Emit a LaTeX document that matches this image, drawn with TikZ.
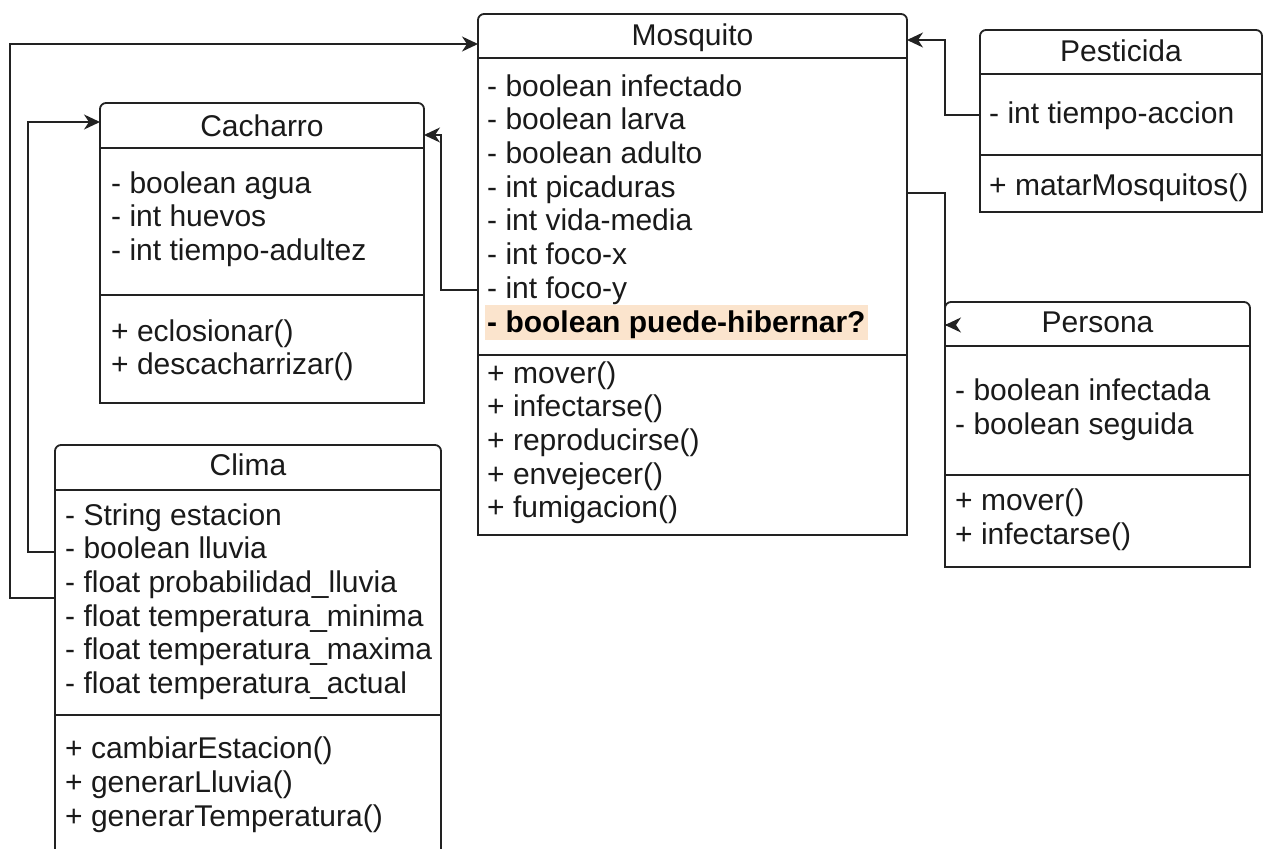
\documentclass[tikz,border=0pt]{standalone}
\usepackage{fontspec}
\setmainfont{Liberation Sans}
\usetikzlibrary{arrows.meta,calc}

\definecolor{ink}{HTML}{1A1A1A}
\definecolor{linegray}{HTML}{222222}
\definecolor{peach}{HTML}{FBE4CD}

\tikzset{
  cls/.style={rectangle, draw=none, inner sep=0pt, outer sep=0pt},
  boxline/.style={draw=linegray, line width=1.8pt, line cap=rect},
  txt/.style={anchor=base west, inner sep=0pt, text=ink,
    font=\fontsize{30}{34}\selectfont},
  ttl/.style={anchor=base, inner sep=0pt, text=ink,
    font=\fontsize{30}{34}\selectfont},
  conn/.style={draw=linegray, line width=1.8pt,
    -{Stealth[length=16pt,width=15pt,inset=5pt]}},
  plainconn/.style={draw=linegray, line width=1.8pt},
}

% class outline: rounded top corners, square bottom corners
\newcommand\umlclass[1]{%
  \draw[boxline, rounded corners=6pt] (#1.south west) -- (#1.north west)
    -- (#1.north east) -- (#1.south east);
  \draw[boxline] (#1.south west) -- (#1.south east);
}
\newcommand\umlsep[2]{%
  \draw[boxline] (#1.west |- 0,#2) -- (#1.east |- 0,#2);
}

\begin{document}
\begin{tikzpicture}[x=1pt,y=-1pt]
\path[use as bounding box] (0,0) rectangle (1267,849);
\clip (0,0) rectangle (1267,849);
\fill[white] (0,0) rectangle (1267,849);

% ---- class frames ----
\node[cls, minimum width=429pt, minimum height=521pt] (mos) at (692.5,274.5) {};
\node[cls, minimum width=324pt, minimum height=300pt] (cac) at (262,253) {};
\node[cls, minimum width=386pt, minimum height=425pt] (cli) at (248,657.5) {};
\node[cls, minimum width=282pt, minimum height=182pt] (pes) at (1121,121) {};
\node[cls, minimum width=305pt, minimum height=265pt] (per) at (1097.5,434.5) {};

% ---- Mosquito ----
\node[peach, fill=peach, anchor=base west, inner xsep=2pt, inner ysep=0pt,
  text height=27pt, text depth=8pt,
  font=\fontsize{30}{34}\selectfont\bfseries, text=black]
  (moshib) at (485,332) {- boolean puede-hibernar?};
\umlclass{mos}
\umlsep{mos}{58}
\umlsep{mos}{355}
\node[ttl] (mostitle) at (692.5,45) {Mosquito};
\foreach \s [count=\i] in {- boolean infectado, - boolean larva, - boolean adulto,
  - int picaduras, - int vida-media, - int foco-x, - int foco-y}
  \node[txt] (mosa\i) at (487,{96+33.7*(\i-1)}) {\s};
\foreach \s [count=\i] in {+ mover(), + infectarse(), + reproducirse(),
  + envejecer(), + fumigacion()}
  \node[txt] (mosm\i) at (487,{383+33.7*(\i-1)}) {\s};

% ---- Cacharro ----
\umlclass{cac}
\umlsep{cac}{148}
\umlsep{cac}{295}
\node[ttl] (cactitle) at (262,136) {Cacharro};
\foreach \s [count=\i] in {- boolean agua, - int huevos, - int tiempo-adultez}
  \node[txt] (caca\i) at (111,{193+33.7*(\i-1)}) {\s};
\foreach \s [count=\i] in {+ eclosionar(), + descacharrizar()}
  \node[txt] (cacm\i) at (111,{341+33.7*(\i-1)}) {\s};

% ---- Clima ----
\umlclass{cli}
\umlsep{cli}{490}
\umlsep{cli}{715}
\node[ttl] (clititle) at (248,475) {Clima};
\foreach \s [count=\i] in {- String estacion, - boolean lluvia,
  - float probabilidad\_lluvia, - float temperatura\_minima,
  - float temperatura\_maxima, - float temperatura\_actual}
  \node[txt] (clia\i) at (65,{525+33.7*(\i-1)}) {\s};
\foreach \s [count=\i] in {+ cambiarEstacion(), + generarLluvia(),
  + generarTemperatura()}
  \node[txt] (clim\i) at (65,{758+34*(\i-1)}) {\s};

% ---- Pesticida ----
\umlclass{pes}
\umlsep{pes}{74}
\umlsep{pes}{155}
\node[ttl] (pestitle) at (1121,61) {Pesticida};
\node[txt] (pesa1) at (989,123) {- int tiempo-accion};
\node[txt] (pesm1) at (989,195) {+ matarMosquitos()};

% ---- Persona ----
\umlclass{per}
\umlsep{per}{346}
\umlsep{per}{475}
\node[ttl] (pertitle) at (1097.5,332) {Persona};
\node[txt] (pera1) at (955,400) {- boolean infectada};
\node[txt] (pera2) at (955,434) {- boolean seguida};
\node[txt] (perm1) at (955,510) {+ mover()};
\node[txt] (perm2) at (955,544) {+ infectarse()};

% ---- connectors ----
\draw[conn] (cli.west |- 0,598) -| (10,44) -- (mos.west |- 0,44);
\draw[conn] (cli.west |- 0,552) -| (28,122) -- (cac.west |- 0,122);
\draw[conn] (mos.west |- 0,290) -| (441,135) -- (cac.east |- 0,135);
\draw[conn] (pes.west |- 0,115) -| (945,40) -- (mos.east |- 0,40);
\draw[plainconn] (mos.east |- 0,193) -| (per.west |- 0,325);
\draw[conn] ($(per.west |- 0,325)+(1,0)$) -- (per.west |- 0,325);
\end{tikzpicture}
\end{document}
